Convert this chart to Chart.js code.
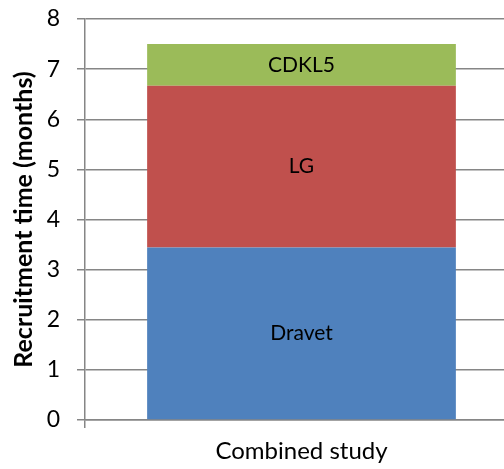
<!DOCTYPE html>
<html>
<head>
<meta charset="utf-8">
<script src="https://cdn.jsdelivr.net/npm/chart.js@4/dist/chart.umd.min.js"></script>
<style>
html,body{margin:0;padding:0;background:#fff;overflow:hidden;}
#wrap{width:504px;height:469px;overflow:hidden;position:relative;}
</style>
</head>
<body>
<div id="wrap"><canvas id="c" width="530" height="469"></canvas></div>
<script>
const categories = ["Combined study"];
const seriesNames = ["Dravet", "LG", "CDKL5"];
const dravet = [3.44];
const lg = [3.23];
const cdkl5 = [0.83];
const yTicks = [0, 1, 2, 3, 4, 5, 6, 7, 8];
const colors = ["#4F81BD", "#C0504D", "#9BBB59"];

const FONT = "Lato, 'Open Sans', sans-serif";

const labelPlugin = {
  id: "barLabels",
  afterDatasetsDraw(chart) {
    const ctx = chart.ctx;
    ctx.save();
    ctx.fillStyle = "#000";
    ctx.font = "21px " + FONT;
    ctx.textAlign = "center";
    ctx.textBaseline = "middle";
    chart.data.datasets.forEach((ds, i) => {
      const meta = chart.getDatasetMeta(i);
      meta.data.forEach(el => {
        const p = el.getProps(["x", "y", "base"], true);
        ctx.fillText(ds.label, p.x, (p.y + p.base) / 2);
      });
    });
    ctx.restore();
  }
};

new Chart(document.getElementById("c"), {
  type: "bar",
  data: {
    labels: categories,
    datasets: [
      { label: seriesNames[0], data: dravet, backgroundColor: colors[0] },
      { label: seriesNames[1], data: lg, backgroundColor: colors[1] },
      { label: seriesNames[2], data: cdkl5, backgroundColor: colors[2] }
    ]
  },
  options: {
    responsive: false,
    animation: false,
    layout: { autoPadding: false, padding: { top: 19, right: 12, bottom: 0, left: 0 } },
    plugins: { legend: { display: false }, tooltip: { enabled: false } },
    datasets: { bar: { categoryPercentage: 1, barPercentage: 0.713 } },
    scales: {
      x: {
        stacked: true,
        offset: true,
        grid: { drawOnChartArea: false, tickLength: 8, color: "#868686", lineWidth: 1.5, offset: true },
        border: { display: true, color: "#868686", width: 1.5 },
        ticks: { display: false },
        title: { display: true, text: "Combined study", color: "#000",
                 font: { family: FONT, size: 24 }, padding: { top: 0, bottom: 3 } },
        afterFit(s) { s.height = 49; s.paddingLeft = 0; s.paddingRight = 0; }
      },
      y: {
        stacked: true,
        min: 0, max: 8,
        afterBuildTicks(s) { s.ticks = yTicks.map(v => ({ value: v })); },
        grid: { color: "#868686", lineWidth: 1.5, tickLength: 8 },
        border: { display: true, color: "#868686", width: 1.5 },
        ticks: { color: "#000", padding: 17, font: { family: FONT, size: 23 } },
        title: { display: true, text: "Recruitment time (months)", color: "#000",
                 font: { family: FONT, size: 25, weight: "bold" }, padding: { top: 9, bottom: 0 } },
        afterFit(s) { s.width = 85; s.paddingTop = 0; s.paddingBottom = 0; }
      }
    }
  },
  plugins: [labelPlugin]
});
</script>
</body>
</html>
